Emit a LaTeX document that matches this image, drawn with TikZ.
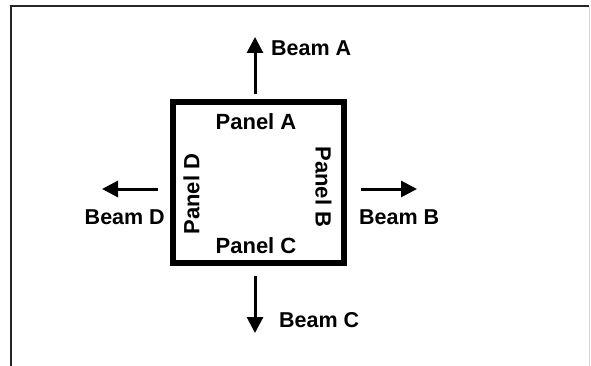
\documentclass[tikz,border=0pt]{standalone}
\usepackage{fontspec}
\setmainfont{Liberation Sans}
\usetikzlibrary{arrows.meta}
\begin{document}
\begin{tikzpicture}[x=1pt,y=-1pt,
  beamlabel/.style={font=\fontsize{21.5}{23}\selectfont\bfseries, inner sep=0pt},
  panellabel/.style={font=\fontsize{22}{24}\selectfont\bfseries, inner sep=0pt},
  beamarrow/.style={line width=3pt, -{Triangle[length=16pt,width=16pt]}},
  panelbox/.style={draw=black, line width=6pt, minimum width=170.5pt, minimum height=160pt, inner sep=0pt}
]
\useasboundingbox (0,0) rectangle (591,366);
\fill[white] (0,0) rectangle (591,366);
% frame
\draw[line width=2pt, black!85] (11,367) -- (11,6) -- (589,6);
\draw[line width=1pt, black!15] (589.5,6) -- (589.5,367);
% box
\node[panelbox] (box) at (258.25,182.5) {};
% panel labels
\node[panellabel] (pa) at (256,122) {Panel A};
\node[panellabel] (pc) at (256,245.5) {Panel C};
\node[panellabel, rotate=90] (pd) at (191.5,194) {Panel D};
\node[panellabel, rotate=-90] (pb) at (323.5,187) {Panel B};
% arrows
\coordinate (a0) at (255,94);
\coordinate (a1) at (255,37);
\coordinate (c0) at (255,276);
\coordinate (c1) at (255,333);
\coordinate (d0) at (158,189);
\coordinate (d1) at (102,189);
\coordinate (b0) at (361,189);
\coordinate (b1) at (417,189);
\draw[beamarrow] (a0) -- (a1);
\draw[beamarrow] (c0) -- (c1);
\draw[beamarrow] (d0) -- (d1);
\draw[beamarrow] (b0) -- (b1);
% beam labels
\node[beamlabel, anchor=west] (ba) at (271,48) {Beam A};
\node[beamlabel, anchor=west] (bc) at (279,320) {Beam C};
\node[beamlabel, anchor=east] (bd) at (165,217) {Beam D};
\node[beamlabel, anchor=west] (bb) at (359,217) {Beam B};
\end{tikzpicture}
\end{document}
